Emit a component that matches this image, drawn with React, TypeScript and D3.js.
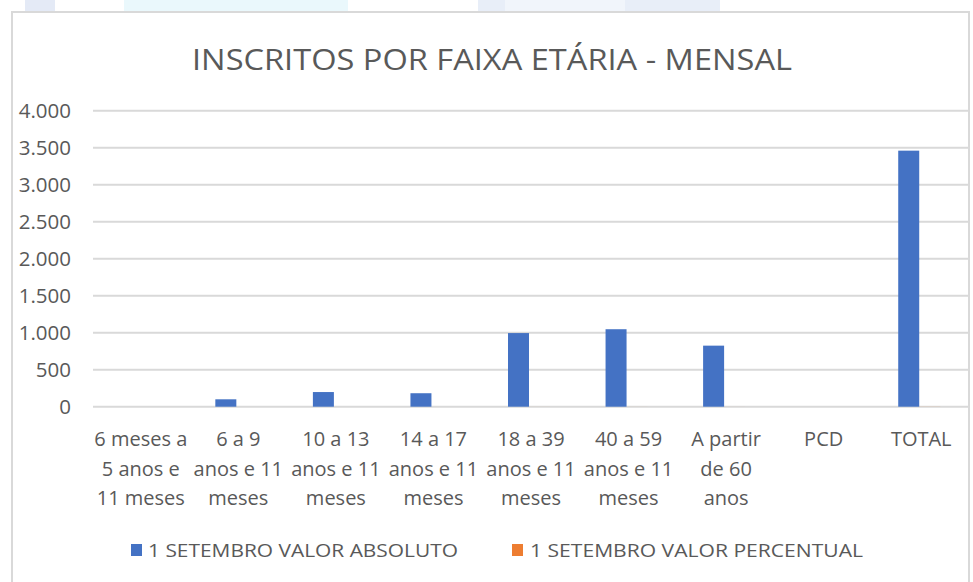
import React from "react";
import * as d3 from "d3";

const categories: string[][] = [
  ["6 meses a", "5 anos e", "11 meses"],
  ["6 a 9", "anos e 11", "meses"],
  ["10 a 13", "anos e 11", "meses"],
  ["14 a 17", "anos e 11", "meses"],
  ["18 a 39", "anos e 11", "meses"],
  ["40 a 59", "anos e 11", "meses"],
  ["A partir", "de 60", "anos"],
  ["PCD"],
  ["TOTAL"],
];
const valorAbsoluto = [0, 100, 198, 182, 995, 1047, 825, 0, 3460];
const valorPercentual = [0, 0.03, 0.06, 0.05, 0.29, 0.3, 0.24, 0, 1];
const yTicks = [0, 500, 1000, 1500, 2000, 2500, 3000, 3500, 4000];
const seriesNames = ["1 SETEMBRO VALOR ABSOLUTO", "1 SETEMBRO VALOR PERCENTUAL"];
const seriesColors = ["#4472C4", "#ED7D31"];

const W = 973;
const H = 582;
const FONT = "'Open Sans', 'Noto Sans', sans-serif";
const TXT = "#595959";

export default function App() {
  const x = d3.scaleBand<number>().domain(d3.range(categories.length)).range([90, 968]);
  const y = d3.scaleLinear().domain([0, 4000]).range([406.7, 110.7]);
  const barW = 21;
  const fmt = (v: number) => d3.format(",")(v).replace(/,/g, ".");

  return (
    <svg width={W} height={H} style={{ position: "absolute", left: 0, top: 0, background: "#fff" }}>
      {/* faint background strip behind the chart */}
      <rect x={25} y={0} width={30} height={12} fill="#e4eaf6" />
      <rect x={124} y={0} width={224} height={12} fill="#eaf8fc" />
      <rect x={478} y={0} width={242} height={12} fill="#e8eef8" />
      <rect x={505} y={0} width={120} height={12} fill="#f1f5fb" />
      <rect x={12} y={12} width={957} height={580} fill="#fff" stroke="#d9d9d9" strokeWidth={2} />

      <text x={492} y={70} textAnchor="middle" fontFamily={FONT} fontSize={29} fill={TXT}
        textLength={600} lengthAdjust="spacingAndGlyphs">
        INSCRITOS POR FAIXA ETÁRIA - MENSAL
      </text>

      {yTicks.map((t) => (
        <g key={t}>
          <line x1={93} x2={968} y1={y(t)} y2={y(t)} stroke="#d9d9d9" strokeWidth={2} />
          <text x={71} y={y(t) + 7} textAnchor="end" fontFamily={FONT} fontSize={20.5} fill={TXT}>
            {fmt(t)}
          </text>
        </g>
      ))}

      {valorAbsoluto.map((v, i) => {
        const cx = (x(i) as number) + x.bandwidth() / 2;
        return (
          <rect key={"a" + i} x={cx - barW} y={y(v)} width={barW} height={y(0) - y(v)}
            fill={seriesColors[0]} />
        );
      })}
      {valorPercentual.map((v, i) => {
        const cx = (x(i) as number) + x.bandwidth() / 2;
        return (
          <rect key={"p" + i} x={cx} y={y(v)} width={barW} height={Math.max(0, y(0) - y(v))}
            fill={seriesColors[1]} />
        );
      })}

      {categories.map((lines, i) => {
        const cx = (x(i) as number) + x.bandwidth() / 2 + 2;
        return (
          <text key={"c" + i} textAnchor="middle" fontFamily={FONT} fontSize={20} fill={TXT}>
            {lines.map((l, j) => (
              <tspan key={j} x={cx} y={446 + j * 29.5}>{l}</tspan>
            ))}
          </text>
        );
      })}

      <rect x={131} y={544} width={11} height={12} fill={seriesColors[0]} />
      <text x={148} y={557} fontFamily={FONT} fontSize={19} fill={TXT} textLength={310}
        lengthAdjust="spacingAndGlyphs">{seriesNames[0]}</text>
      <rect x={512} y={544} width={11} height={12} fill={seriesColors[1]} />
      <text x={530} y={557} fontFamily={FONT} fontSize={19} fill={TXT} textLength={333}
        lengthAdjust="spacingAndGlyphs">{seriesNames[1]}</text>
    </svg>
  );
}
